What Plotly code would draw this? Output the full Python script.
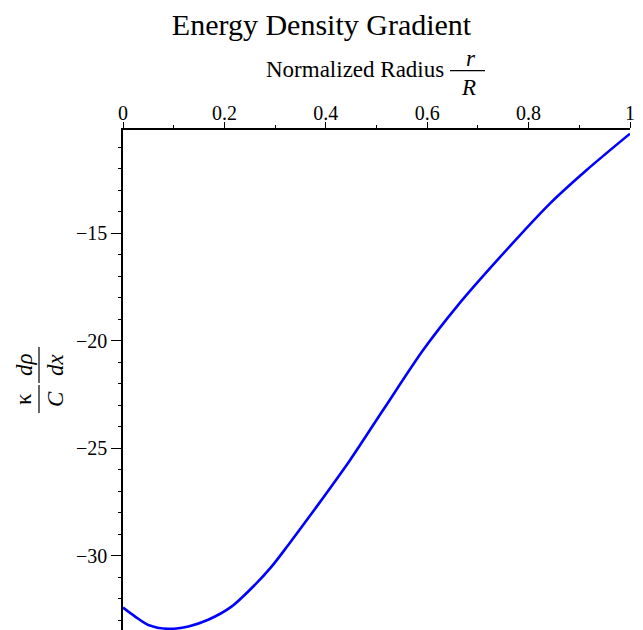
import plotly.graph_objects as go

# Data
radius = [0.0, 0.024, 0.05, 0.089, 0.129, 0.168, 0.214, 0.26, 0.293, 0.326,
          0.382, 0.448, 0.513, 0.592, 0.658, 0.744, 0.842, 0.914, 1.0]
gradient = [-32.40, -32.82, -33.21, -33.39, -33.28, -32.97, -32.36, -31.35, -30.50, -29.49,
            -27.71, -25.54, -23.22, -20.43, -18.42, -16.10, -13.62, -12.07, -10.37]

x_tickvals = [0, 0.2, 0.4, 0.6, 0.8, 1]
x_ticktext = ["0", "0.2", "0.4", "0.6", "0.8", "1"]
y_tickvals = [-15, -20, -25, -30]

FONT = "Liberation Serif, Times New Roman, serif"

# plot area in pixels
L, R, T, B = 123, 13, 130, 0
W, H = 643, 630
PW, PH = W - L - R, H - T - B


def px(x):
    return (x - L) / PW


def py(y):
    return (H - B - y) / PH


fig = go.Figure()
fig.add_trace(go.Scatter(
    x=radius, y=gradient, mode="lines",
    line=dict(color="#0000ff", width=2.6, shape="spline", smoothing=0.8),
    showlegend=False, hoverinfo="skip", cliponaxis=True,
))

ann = []
shapes = []
# x-axis title with fraction r/R
ann.append(dict(text="Normalized Radius", x=px(446), y=py(70), xanchor="right", yanchor="middle",
                font=dict(size=23, family=FONT, color="black")))
ann.append(dict(text="<i>r</i>", x=px(471), y=py(58), xanchor="center", yanchor="middle",
                font=dict(size=23, family=FONT, color="black")))
ann.append(dict(text="<i>R</i>", x=px(468), y=py(88), xanchor="center", yanchor="middle",
                font=dict(size=23, family=FONT, color="black")))
shapes.append(dict(type="line", xref="paper", yref="paper", x0=px(450), x1=px(485),
                   y0=py(70.7), y1=py(70.7), line=dict(color="black", width=1.2)))

# y-axis title: kappa/C * d rho / dx (rotated)
for txt, cx, cy in [("κ", 23, 399), ("<i>C</i>", 55, 399), ("<i>dρ</i>", 24, 365), ("<i>dx</i>", 55, 365)]:
    ann.append(dict(text=txt, x=px(cx), y=py(cy), xanchor="center", yanchor="middle", textangle=-90,
                    font=dict(size=23, family=FONT, color="black")))
shapes.append(dict(type="line", xref="paper", yref="paper", x0=px(39), x1=px(39),
                   y0=py(385), y1=py(413), line=dict(color="black", width=1.2)))
shapes.append(dict(type="line", xref="paper", yref="paper", x0=px(39), x1=px(39),
                   y0=py(347), y1=py(383), line=dict(color="black", width=1.2)))

for a in ann:
    a.update(xref="paper", yref="paper", showarrow=False)

fig.update_layout(
    width=W, height=H,
    margin=dict(l=L, r=R, t=T, b=B, autoexpand=False),
    paper_bgcolor="white", plot_bgcolor="white",
    title=dict(text="Energy Density Gradient", x=0.5, xref="container", y=1 - 24 / H,
               yref="container", xanchor="center", yanchor="middle",
               font=dict(size=30, family=FONT, color="black")),
    annotations=ann, shapes=shapes,
    xaxis=dict(
        range=[0, 1], side="top", showgrid=False, zeroline=False,
        showline=True, linecolor="black", linewidth=1.5,
        tickmode="array", tickvals=x_tickvals, ticktext=x_ticktext,
        ticks="outside", ticklen=6, tickwidth=1, tickcolor="black",
        minor=dict(dtick=0.1, ticks="outside", ticklen=3, tickcolor="black"),
        tickfont=dict(size=20, family=FONT, color="black"),
        ticklabelstandoff=-6,
        fixedrange=True, automargin=False,
    ),
    yaxis=dict(
        range=[-33.445, -10.2], showgrid=False, zeroline=False,
        showline=True, linecolor="black", linewidth=1.5,
        tickmode="array", tickvals=y_tickvals,
        ticks="outside", ticklen=10, tickwidth=1, tickcolor="black",
        minor=dict(dtick=1, ticks="outside", ticklen=3, tickcolor="black"),
        tickfont=dict(size=20, family=FONT, color="black"),
        ticklabelstandoff=0,
        fixedrange=True, automargin=False,
    ),
)

fig.write_html(
    "out.html",
    config={"displayModeBar": False},
    post_script="document.body.style.margin='0';document.body.style.padding='0';document.body.style.overflow='hidden';",
)
